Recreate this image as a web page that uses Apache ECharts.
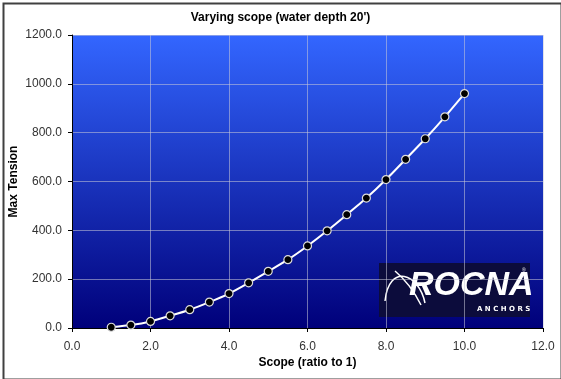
<!DOCTYPE html>
<html><head><meta charset="utf-8">
<script src="https://cdn.jsdelivr.net/npm/echarts@6/dist/echarts.min.js"></script>
<style>html,body{margin:0;padding:0;background:#fff}#c{width:561px;height:379px}</style>
</head><body><div id="c"></div>
<script>
const scope = [1.0,1.5,2.0,2.5,3.0,3.5,4.0,4.5,5.0,5.5,6.0,6.5,7.0,7.5,8.0,8.5,9.0,9.5,10.0];
const maxTension = [3,12,27,50,75,106,141,185,232,280,336,398,464,532,608,691,775,865,960];
const titleText = "Varying scope (water depth 20')";
const xName = "Scope (ratio to 1)";
const yName = "Max Tension";

const chart = echarts.init(document.getElementById('c'));
const font = '"Liberation Sans", Arial, sans-serif';
chart.setOption({
  animation: false,
  title: {text: titleText, left: 'center', top: 7, textStyle: {fontFamily: font, fontSize: 12, fontWeight: 'bold', color: '#000'}},
  grid: {left: 72, right: 18, top: 35, bottom: 51, show: true, borderWidth: 0, outerBoundsMode: 'none', containLabel: false,
    backgroundColor: new echarts.graphic.LinearGradient(0,0,0,1,[{offset:0,color:'#3366ff'},{offset:1,color:'#00007a'}])},
  xAxis: {type: 'value', min: 0, max: 12, interval: 2,
    name: xName, nameLocation: 'middle', nameGap: 29, nameMoveOverlap: false,
    nameTextStyle: {fontFamily: font, fontSize: 12, fontWeight: 'bold', color: '#000'},
    axisLine: {show: true, onZero: false, lineStyle: {color: '#000', width: 1}},
    axisTick: {show: true, length: 4, lineStyle: {color: '#000'}},
    axisLabel: {fontFamily: font, fontSize: 12, color: '#333', margin: 13, formatter: v => v.toFixed(1)},
    splitLine: {show: true, lineStyle: {color: 'rgba(200,200,215,0.55)', width: 1}}},
  yAxis: {type: 'value', min: 0, max: 1200, interval: 200,
    name: yName, nameLocation: 'middle', nameGap: 58, nameMoveOverlap: false,
    nameTextStyle: {fontFamily: font, fontSize: 12, fontWeight: 'bold', color: '#000', verticalAlign: 'middle'},
    axisLine: {show: true, lineStyle: {color: '#000', width: 1}},
    axisTick: {show: true, length: 4, lineStyle: {color: '#000'}},
    axisLabel: {fontFamily: font, fontSize: 12, color: '#333', margin: 10, formatter: v => v.toFixed(1)},
    splitLine: {show: true, lineStyle: {color: 'rgba(200,200,215,0.55)', width: 1}}},
  series: [{type: 'line', data: scope.map((s,i)=>[s, maxTension[i]]),
    smooth: 0.2,
    lineStyle: {color: '#fff', width: 2},
    symbol: 'circle', symbolSize: 8,
    itemStyle: {color: '#000', borderColor: '#ddd', borderWidth: 1.2}}],
  graphic: [
    {type: 'rect', left: 1, top: 1, shape: {width: 558, height: 376}, style: {fill: 'none', stroke: '#404040', lineWidth: 2}, silent: true},
    {type: 'group', left: 379, top: 263, children: [
      {type: 'rect', shape: {x: 0, y: 0, width: 151, height: 54}, style: {fill: '#0c0c3c'}},
      {type: 'bezierCurve', shape: {x1: 6, y1: 38, x2: 46, y2: 40, cpx1: 10, cpy1: 0, cpx2: 40, cpy2: 10}, style: {stroke: '#fff', lineWidth: 1.5, fill: 'none'}},
      {type: 'bezierCurve', shape: {x1: 16, y1: 8, x2: 42, y2: 42, cpx1: 28, cpy1: 18, cpx2: 36, cpy2: 30}, style: {stroke: '#fff', lineWidth: 1.5, fill: 'none'}},
      {type: 'text', x: 30, y: 6, style: {text: 'ROCNA', fill: '#fff', font: 'italic bold 34px "Liberation Sans", Arial, sans-serif'}},
      {type: 'text', x: 98, y: 43, style: {text: 'A N C H O R S', fill: '#fff', font: 'bold 7px "DejaVu Sans", sans-serif'}},
      {type: 'text', x: 143, y: 5, style: {text: '®', fill: '#fff', font: '5px sans-serif'}}
    ]}
  ]
});
</script></body></html>
